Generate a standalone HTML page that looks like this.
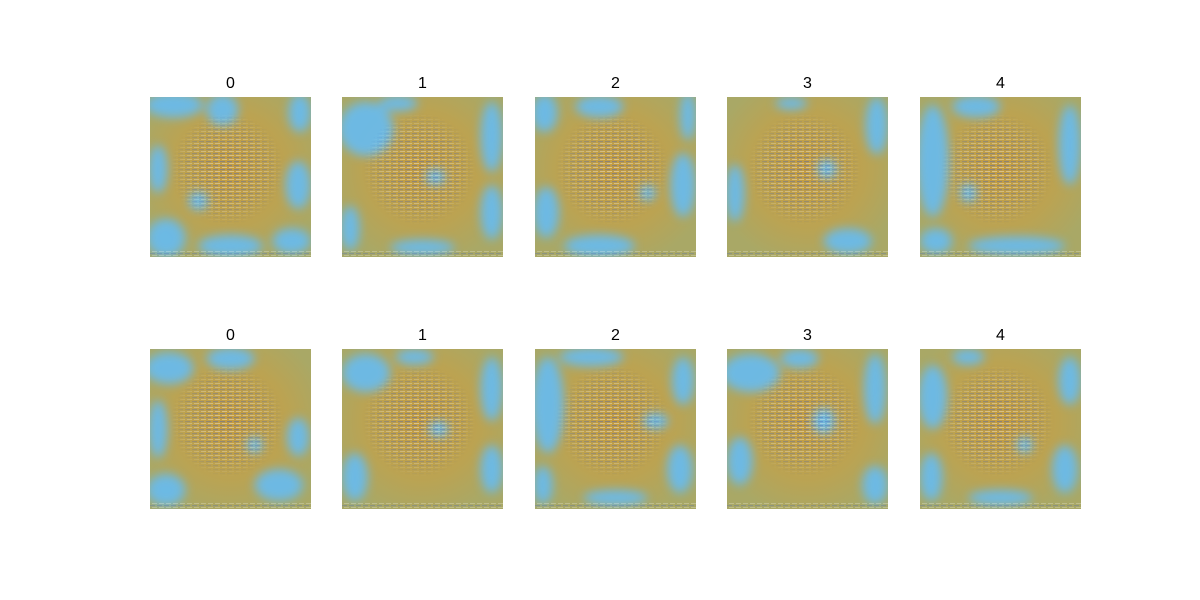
<!DOCTYPE html>
<html><head><meta charset="utf-8"><style>
body{margin:0;background:#fff;width:1200px;height:600px;overflow:hidden;font-family:"Liberation Sans",sans-serif}
#fig{position:relative;width:1200px;height:600px}
.t{position:absolute;font-size:16px;color:#000;text-align:center;width:161px}
svg.im{position:absolute}
</style></head><body>
<div id="fig"></div>
<script>
const titles=["0","1","2","3","4"];
const colX=[150,342,535,727,920];
const rowY=[97,349];
const blobs=[
 [[0.15,0.05,0.18,0.08],[0.45,0.08,0.1,0.1],[0.93,0.1,0.07,0.12],[0.05,0.45,0.06,0.15],[0.1,0.88,0.12,0.12],[0.5,0.93,0.2,0.07],[0.92,0.55,0.08,0.15],[0.88,0.9,0.12,0.08],[0.3,0.65,0.06,0.06]],
 [[0.15,0.2,0.17,0.17],[0.35,0.04,0.12,0.05],[0.93,0.25,0.07,0.22],[0.93,0.72,0.07,0.17],[0.05,0.82,0.06,0.14],[0.58,0.5,0.06,0.05],[0.5,0.94,0.2,0.05]],
 [[0.06,0.1,0.08,0.12],[0.4,0.06,0.15,0.07],[0.95,0.12,0.05,0.15],[0.07,0.72,0.08,0.16],[0.4,0.93,0.22,0.07],[0.92,0.55,0.08,0.2],[0.7,0.6,0.05,0.05]],
 [[0.93,0.18,0.07,0.18],[0.05,0.6,0.06,0.18],[0.75,0.9,0.15,0.08],[0.4,0.04,0.1,0.04],[0.62,0.45,0.06,0.06]],
 [[0.08,0.4,0.1,0.35],[0.35,0.06,0.15,0.07],[0.93,0.3,0.07,0.25],[0.6,0.93,0.3,0.06],[0.1,0.9,0.1,0.08],[0.3,0.6,0.05,0.06]],
 [[0.12,0.12,0.15,0.1],[0.5,0.06,0.15,0.07],[0.05,0.5,0.06,0.18],[0.1,0.88,0.12,0.1],[0.8,0.85,0.15,0.1],[0.92,0.55,0.07,0.12],[0.65,0.6,0.05,0.05]],
 [[0.15,0.15,0.15,0.12],[0.45,0.05,0.12,0.05],[0.93,0.25,0.07,0.2],[0.08,0.8,0.08,0.15],[0.93,0.75,0.07,0.15],[0.6,0.5,0.06,0.05]],
 [[0.08,0.35,0.1,0.3],[0.35,0.05,0.2,0.06],[0.92,0.2,0.07,0.15],[0.05,0.85,0.06,0.12],[0.5,0.93,0.2,0.05],[0.9,0.75,0.08,0.15],[0.75,0.45,0.08,0.05]],
 [[0.15,0.15,0.18,0.12],[0.45,0.06,0.12,0.06],[0.92,0.25,0.07,0.22],[0.08,0.7,0.08,0.15],[0.6,0.45,0.07,0.08],[0.92,0.85,0.08,0.12]],
 [[0.08,0.3,0.09,0.2],[0.3,0.05,0.1,0.05],[0.93,0.2,0.07,0.15],[0.07,0.8,0.07,0.15],[0.9,0.75,0.08,0.15],[0.5,0.93,0.2,0.05],[0.65,0.6,0.05,0.05]]
];
const fig=document.getElementById('fig');
const NS="http://www.w3.org/2000/svg";
let k=0;
for(let r=0;r<2;r++){for(let c=0;c<5;c++){
 const W=161,H=160;
 const t=document.createElement('div');t.className='t';
 
 
 t.style.left=colX[c]+'px';t.style.top=(rowY[r]-22)+'px';t.textContent=titles[c];fig.appendChild(t);
 const s=document.createElementNS(NS,'svg');s.setAttribute('class','im');
 
 
 s.setAttribute('width',W);s.setAttribute('height',H);
 s.style.left=colX[c]+'px';s.style.top=rowY[r]+'px';
 const id='i'+k;
 let h=`<defs><radialGradient id="g${id}" cx="50%" cy="45%" r="60%"><stop offset="0" stop-color="#c49c40"/><stop offset="0.6" stop-color="#bba352"/><stop offset="1" stop-color="#a9a866"/></radialGradient>
 <pattern id="p${id}" width="7" height="4" patternUnits="userSpaceOnUse"><rect width="5" height="1.2" fill="#4060c0" opacity="0.45"/><rect x="2" y="2" width="5" height="1" fill="#ffffff" opacity="0.4"/></pattern>
 <radialGradient id="m${id}g"><stop offset="0" stop-color="#fff"/><stop offset="0.7" stop-color="#fff" stop-opacity="0.6"/><stop offset="1" stop-color="#fff" stop-opacity="0"/></radialGradient>
 <mask id="m${id}"><ellipse cx="${W*0.48}" cy="${H*0.45}" rx="${W*0.35}" ry="${H*0.35}" fill="url(#m${id}g)"/></mask>
 <filter id="f${id}" x="-50%" y="-50%" width="200%" height="200%" filterUnits="objectBoundingBox"><feGaussianBlur stdDeviation="5"/></filter></defs>
 <rect width="${W}" height="${H}" fill="url(#g${id})"/>`;
 h+=`<g filter="url(#f${id})" opacity="0.9">`;
 blobs[k].forEach(b=>{h+=`<ellipse cx="${b[0]*W}" cy="${b[1]*H}" rx="${b[2]*W}" ry="${b[3]*H}" fill="#66bcf2"/>`;});
 h+=`</g><rect width="${W}" height="${H}" fill="url(#p${id})" mask="url(#m${id})"/>
 <rect y="${H-6}" width="${W}" height="6" fill="url(#p${id})" opacity="0.6"/>`;
 s.innerHTML=h;fig.appendChild(s);k++;
}}
</script>
</body></html>
